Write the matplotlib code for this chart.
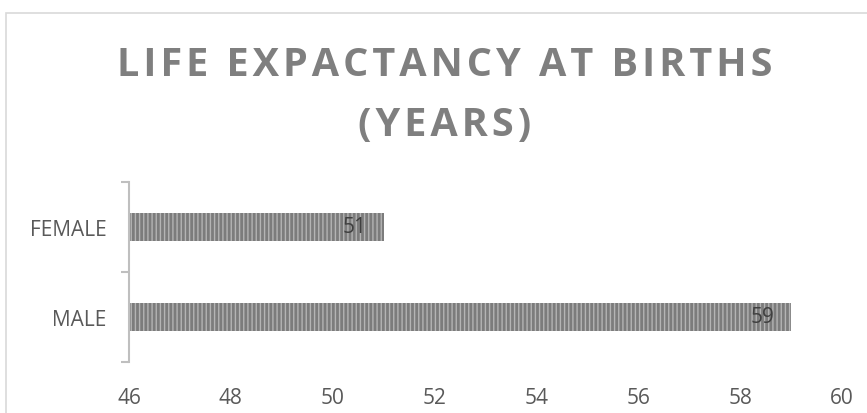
import matplotlib
matplotlib.use('Agg')
import matplotlib.pyplot as plt
from matplotlib.patches import Rectangle

categories = ['MALE', 'FEMALE']
values = [59, 51]
x_ticks = [46, 48, 50, 52, 54, 56, 58, 60]

W, H = 867, 414
fig = plt.figure(figsize=(W / 100, H / 100), dpi=100)

# outer chart border (runs off right and bottom edge)
fig.patches.append(Rectangle((6 / W, -0.1), 1.2, 1.1 - 14 / H,
                             transform=fig.transFigure, fill=False,
                             edgecolor='#d9d9d9', linewidth=1.2))

ax = fig.add_axes([129 / W, 1 - 363 / H, (842 - 129) / W, (363 - 183) / H])

plt.rcParams['hatch.color'] = '#b4b4b4'
plt.rcParams['hatch.linewidth'] = 1.0
ax.barh(range(len(categories)), values, left=0, height=0.31,
        color='#7c7c7c', hatch='||||', edgecolor='#b4b4b4', linewidth=0)
ax.set_xlim(46, 60)
ax.set_ylim(-0.5, 1.5)

for i, v in enumerate(values):
    ax.text(v - 0.33, i, str(v), ha='right', va='center', fontsize=15,
            color='#404040', family='Open Sans')

ax.set_yticks([-0.5, 0.5, 1.5], minor=False)
ax.set_yticklabels([])
ax.set_yticks([0, 1], minor=True)
ax.set_yticklabels(categories, minor=True, fontsize=15, color='#595959', family='Open Sans')
ax.tick_params(axis='y', which='major', length=6, color='#bfbfbf', width=1.5)
ax.tick_params(axis='y', which='minor', length=0, pad=16)

ax.set_xticks(x_ticks)
ax.set_xticklabels([str(t) for t in x_ticks], fontsize=15, color='#595959', family='Open Sans')
ax.tick_params(axis='x', length=0, pad=18)

for s in ['top', 'right', 'bottom']:
    ax.spines[s].set_visible(False)
ax.spines['left'].set_color('#bfbfbf')
ax.spines['left'].set_linewidth(1.5)

# title has wide letter spacing: hair spaces between letters
hs = '\u200a'
title_kw = dict(ha='center', va='center', fontsize=28.5, fontweight='bold',
                color='#7f7f7f', family=['Open Sans', 'DejaVu Sans'])
fig.text(445 / W, 1 - 65 / H, hs.join('LIFE EXPACTANCY AT BIRTHS'), **title_kw)
fig.text(445 / W, 1 - 125 / H, hs.join('(YEARS)'), **title_kw)

fig.savefig('out.png', dpi=100)
